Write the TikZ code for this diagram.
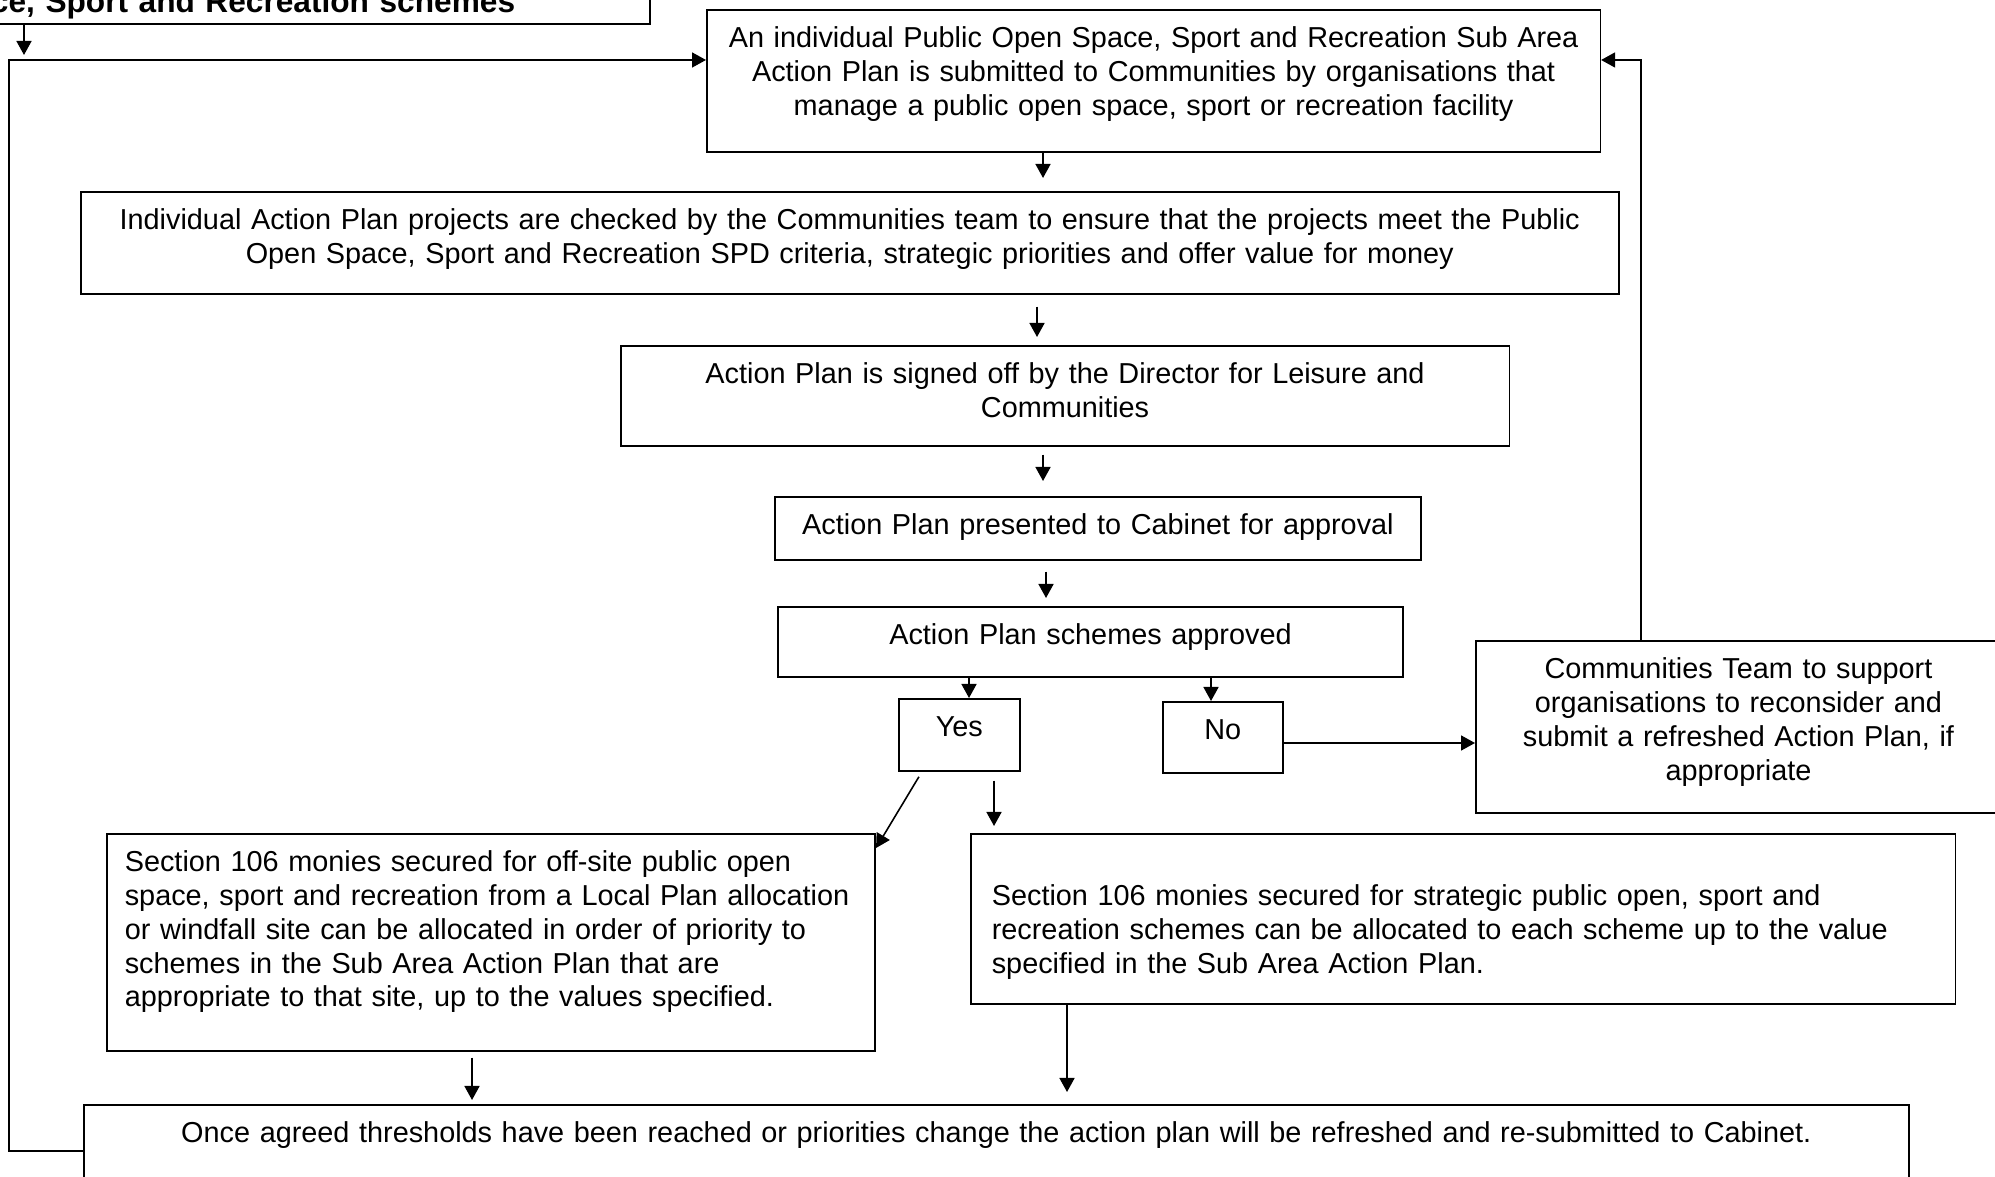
\documentclass[tikz,border=0pt]{standalone}
\usepackage{fontspec}
\setmainfont{Liberation Sans}
\usetikzlibrary{arrows.meta}
\begin{document}
\begin{tikzpicture}[x=0.01cm, y=-0.01cm,
    box/.style={draw, line width=0.45pt, anchor=north west, inner xsep=0pt, inner ysep=0pt,
      align=center, text height=0.38cm, font=\fontsize{8.2}{9.6}\selectfont},
    leftbox/.style={box, align=left, inner xsep=0.19cm},
    arr/.style={-{Triangle[length=0.14cm, width=0.15cm]}, line width=0.45pt}]
        \useasboundingbox (0,0) rectangle (1995,1177);
        \clip (0,0) rectangle (1995,1177);

        % Box cut off at the top left
        \node[box, anchor=south east, align=right, text width=6cm, inner xsep=1.35cm,
          text height=1cm, text depth=0.12cm, font=\fontsize{9}{10.4}\selectfont\bfseries]
          (schemes) at (651,25) {ce, Sport and Recreation schemes};
        \coordinate (loopin) at (24,55);
        \draw[arr] (schemes.south -| 24,0) -- (loopin);

        % Sub Area Action Plan submitted
        \node[box, text width=8.93cm, text depth=1.04cm] (submit) at (706,9)
          {An individual Public Open Space, Sport and Recreation Sub Area\\
           Action Plan is submitted to Communities by organisations that\\
           manage a public open space, sport or recreation facility};

        % Projects checked
        \node[box, text width=15.37cm, text depth=0.64cm] (check) at (80,191)
          {Individual Action Plan projects are checked by the Communities team to ensure that the projects meet the Public\\
           Open Space, Sport and Recreation SPD criteria, strategic priorities and offer value for money};

        % Signed off
        \node[box, text width=8.88cm, text depth=0.62cm] (signed) at (620,345)
          {Action Plan is signed off by the Director for Leisure and\\ Communities};

        % Cabinet
        \node[box, text width=6.46cm, text depth=0.25cm] (cabinet) at (774,496)
          {Action Plan presented to Cabinet for approval};

        % Approved ?
        \node[box, text width=6.25cm, text depth=0.32cm] (approved) at (777,606)
          {Action Plan schemes approved};
        \node[box, text width=1.21cm, text depth=0.34cm] (yes) at (898,698) {Yes};
        \node[box, text width=1.20cm, text depth=0.33cm] (no) at (1162,701) {No};

        % Communities Team support
        \node[box, text width=5.25cm, text depth=1.34cm] (team) at (1475,640)
          {Communities Team to support\\ organisations to reconsider and\\
           submit a refreshed Action Plan, if\\ appropriate};

        % Section 106 monies
        \node[leftbox, inner xsep=0.18cm, text width=7.32cm, text depth=1.79cm] (offsite) at (106,833)
          {Section 106 monies secured for off-site public open\\
           space, sport and recreation from a Local Plan allocation\\
           or windfall site can be allocated in order of priority to\\
           schemes in the Sub Area Action Plan that are\\
           appropriate to that site, up to the values specified.};
        \node[leftbox, inner xsep=0.21cm, text width=9.42cm, text height=0.72cm, text depth=0.98cm] (strategic) at (970,833)
          {Section 106 monies secured for strategic public open, sport and\\
           recreation schemes can be allocated to each scheme up to the value\\
           specified in the Sub Area Action Plan.};

        % Refreshed plan
        \node[box, text width=18.24cm, text depth=1cm] (refresh) at (83,1104)
          {Once agreed thresholds have been reached or priorities change the action plan will be refreshed and re-submitted to Cabinet.};

        % Arrows down the middle
        \draw[arr, shorten >=0.13cm] (submit.south -| 1043,0) -- (check.north -| 1043,0);
        \draw[arr, shorten <=0.12cm, shorten >=0.08cm] (check.south -| 1037,0) -- (signed.north -| 1037,0);
        \draw[arr, shorten <=0.08cm, shorten >=0.15cm] (signed.south -| 1043,0) -- (cabinet.north -| 1043,0);
        \draw[arr, shorten <=0.11cm, shorten >=0.08cm] (cabinet.south -| 1046,0) -- (approved.north -| 1046,0);
        \draw[arr] (approved.south -| 969,0) -- (yes.north -| 969,0);
        \draw[arr] (approved.south -| 1211,0) -- (no.north -| 1211,0);
        \draw[arr] (no.east |- 0,743) -- (team.west |- 0,743);

        % Yes branches
        \draw[arr, shorten <=0.06cm] (yes.south -| 922,0) -- ([yshift=-0.15cm]offsite.north east);
        \draw[arr, shorten <=0.09cm, shorten >=0.07cm] (yes.south -| 994,0) -- (strategic.north -| 994,0);
        \draw[arr, shorten <=0.06cm, shorten >=0.04cm] (offsite.south -| 472,0) -- (refresh.north -| 472,0);
        \draw[arr, shorten >=0.12cm] (strategic.south -| 1067,0) -- (refresh.north -| 1067,0);

        % Loops back to the submission
        \draw[arr] (team.north -| 1641,0) |- (submit.east |- 0,60);
        \draw[arr] (refresh.west |- 0,1151) -- (9,1151) -- (9,60) -- (submit.west |- 0,60);
\end{tikzpicture}
\end{document}
